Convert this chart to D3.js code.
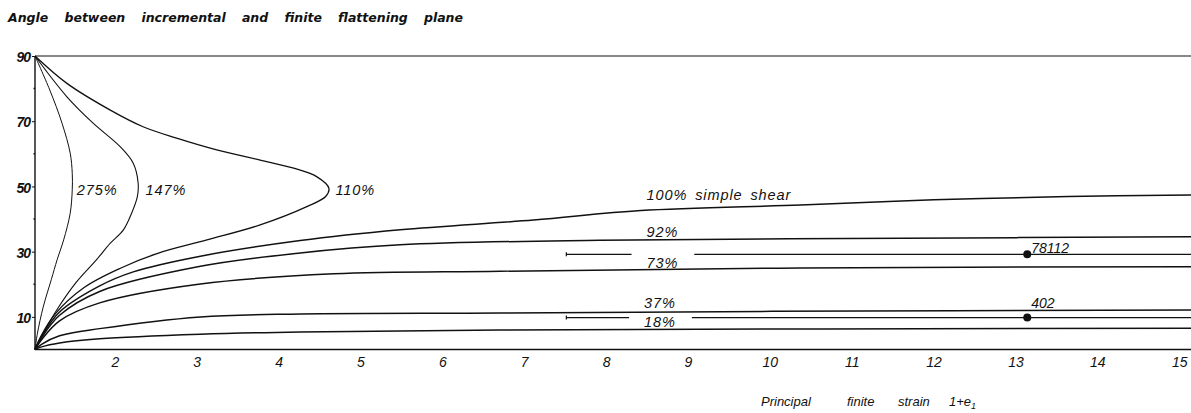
<!DOCTYPE html>
<html>
<head>
<meta charset="utf-8">
<script src="https://cdn.jsdelivr.net/npm/d3@7"></script>
<style>
  html, body { margin: 0; padding: 0; background: #fff; }
  svg { display: block; }
  text { font-family: "Liberation Sans", "DejaVu Sans", sans-serif; font-style: italic; fill: #111; }
</style>
</head>
<body>
<svg id="chart" width="1191" height="413"></svg>
<script>
// ---------- data (strain 1+e1, angle in degrees) ----------
const xTicks = [2, 3, 4, 5, 6, 7, 8, 9, 10, 11, 12, 13, 14, 15];
const yTicks = [10, 30, 50, 70, 90];
const yMinorTicks = [20, 40, 60, 80];

const curve275 = [[1,90],[1.18,79.6],[1.33,69.4],[1.43,60.2],[1.455,54],[1.455,49],[1.43,41.8],[1.35,33.6],[1.27,27.5],[1.2,21.5],[1.1,13],[1.03,5],[1,0]];
const curve147 = [[1,90],[1.39,77.5],[1.71,69.4],[2.04,62.2],[2.2,57.1],[2.26,51],[2.25,46.9],[2.18,41.8],[2.08,36.7],[1.92,32.6],[1.75,27.5],[1.5,20.5],[1.25,11.5],[1.08,4],[1,0]];
const curve110 = [[1,90],[1.39,81.6],[1.92,73.4],[2.32,68.3],[2.73,64.8],[3.22,61.2],[3.75,58.1],[4.16,55.6],[4.44,53],[4.59,49.4],[4.55,46.9],[4.32,43.8],[3.75,38.2],[3.1,33.6],[2.5,29.5],[2.05,25],[1.6,19],[1.25,11],[1.07,4],[1,0]];
const curve100 = [[1,0],[1.08,4],[1.3,11.5],[1.79,19.5],[2.2,23.8],[3.02,28.6],[4.24,33.4],[5.46,36.7],[7.09,39.7],[8.4,42.6],[10.35,44.3],[11.98,45.9],[13.62,46.9],[15.12,47.4]];
const curve92  = [[1,0],[1.08,3.6],[1.3,10.5],[1.79,17.8],[3.02,25.5],[4.24,29.6],[5.46,32.1],[7.9,33.5],[11.6,34.1],[15.12,34.6]];
const curve73  = [[1,0],[1.08,3],[1.3,8.8],[1.79,14.3],[3.02,20.1],[4.65,23.2],[6.68,24.0],[10.35,25],[15.12,25.4]];
const curve37  = [[1,0],[1.08,1.6],[1.3,4.2],[1.79,6.4],[3.02,10.0],[4.24,10.9],[6.68,11.2],[10,11.7],[15.12,12.1]];
const curve18  = [[1,0],[1.08,0.8],[1.3,2.0],[1.79,3.3],[3.02,4.7],[4.24,5.4],[6.68,6.0],[15.12,6.5]];

const curveNames = ["275%", "147%", "110%", "100% simple shear", "92%", "73%", "37%", "18%"];

// measured samples
const sampleNames = ["78112", "402"];
const sampleStrain = [13.12, 13.12];
const sampleAngle = [29.2, 9.8];
const sampleRangeFrom = [7.49, 7.49];
const sampleRangeTo = [15.12, 15.12];

const titleY = "Angle between incremental and finite flattening plane";
const titleXWords = ["Principal", "finite", "strain", "1+e"];

// ---------- drawing ----------
const svg = d3.select("#chart");
const x = d3.scaleLinear().domain([1, 15.12]).range([35, 1191]);
const y = d3.scaleLinear().domain([0, 90]).range([349.5, 56]);

const ink = "#111";

// y title, word spacing fitted to the reference width
const tY = svg.append("text")
  .attr("x", 8).attr("y", 22)
  .attr("font-size", 12.5).attr("font-weight", "bold")
  .style("font-family", '"DejaVu Sans", sans-serif')
  .text(titleY);
const natural = tY.node().getComputedTextLength();
tY.style("word-spacing", Math.max(0, (455 - natural) / 6) + "px");

// frame: top line
svg.append("line").attr("x1", x(1)).attr("x2", 1191).attr("y1", y(90)).attr("y2", y(90))
  .attr("stroke", ink).attr("stroke-width", 1.2);

const xAxis = d3.axisBottom(x).tickValues(xTicks).tickSize(0).tickPadding(6).tickFormat(d3.format("d"));
const gx = svg.append("g").attr("transform", `translate(0,${y(0)})`).call(xAxis);
gx.select(".domain").attr("stroke", ink).attr("stroke-width", 1.6).attr("d", `M${x(1)},0H1191`);
gx.selectAll(".tick text").attr("font-size", 14).attr("dy", "0.8em").attr("dx", -2)
  .style("font-family", '"Liberation Sans", sans-serif').style("font-style", "italic").attr("fill", ink);

const yAxis = d3.axisLeft(y).tickValues(yTicks).tickSize(3).tickPadding(2).tickFormat(d3.format("d"));
const gy = svg.append("g").attr("transform", `translate(${x(1)},0)`).call(yAxis);
gy.select(".domain").attr("stroke", ink).attr("stroke-width", 1.4).attr("d", `M0,${y(90)}V${y(0)}`);
gy.selectAll(".tick line").attr("stroke", ink);
gy.selectAll(".tick text").attr("font-size", 14).attr("font-weight", "bold")
  .style("font-family", '"Liberation Sans", sans-serif').style("font-style", "italic").attr("fill", ink)
  .attr("dy", "0.4em").style("letter-spacing", "-1px");
gy.selectAll(".minor").data(yMinorTicks).join("line")
  .attr("x1", -1.5).attr("x2", 0).attr("y1", d => y(d)).attr("y2", d => y(d))
  .attr("stroke", ink).attr("stroke-width", 1.5);

// x title, word by word
const xTitleOffsets = [0, 86, 137, 188];
const xTitleStart = 761;
titleXWords.forEach((w, i) => {
  const t = svg.append("text").attr("x", xTitleStart + xTitleOffsets[i]).attr("y", 406)
    .attr("font-size", 13).text(w);
  if (i === titleXWords.length - 1) t.append("tspan").attr("font-size", 9).attr("dy", 3).text("1");
});

// curves
const line = d3.line().x(d => x(d[0])).y(d => y(d[1])).curve(d3.curveCatmullRom.alpha(0.5));
const curves = [curve275, curve147, curve110, curve100, curve92, curve73, curve37, curve18];
const widths = [1.0, 1.1, 1.3, 1.5, 1.5, 1.5, 1.5, 1.5];
svg.append("g").selectAll("path").data(curves).join("path")
  .attr("d", line).attr("fill", "none").attr("stroke", ink)
  .attr("stroke-width", (d, i) => widths[i]);

// sample range lines with points
const sampleLabelDy = [-1.5, -9.5];
const sg = svg.append("g");
sampleNames.forEach((name, i) => {
  const yy = y(sampleAngle[i]);
  sg.append("line").attr("x1", x(sampleRangeFrom[i])).attr("x2", x(sampleRangeTo[i]))
    .attr("y1", yy).attr("y2", yy).attr("stroke", ink).attr("stroke-width", 1.3);
  sg.append("line").attr("x1", x(sampleRangeFrom[i])).attr("x2", x(sampleRangeFrom[i]))
    .attr("y1", yy - 2).attr("y2", yy + 2).attr("stroke", ink).attr("stroke-width", 1.2);
  sg.append("circle").attr("cx", x(sampleStrain[i])).attr("cy", yy).attr("r", 4).attr("fill", ink);
  sg.append("text").attr("x", x(sampleStrain[i]) + 4).attr("y", yy + sampleLabelDy[i])
    .attr("font-size", 14).text(name);
});

// curve labels: [strain, angle] of the baseline start
const labelPos = [[1.51, 47.4], [2.35, 47.4], [4.67, 47.4], [8.47, 45.8], [8.47, 34.4], [8.47, 24.9], [8.44, 12.7], [8.44, 6.9]];
const maskTop = { "73%": 17, "18%": 13 };
const lg = svg.append("g");
curveNames.forEach((name, i) => {
  const t = lg.append("text").attr("x", x(labelPos[i][0])).attr("y", y(labelPos[i][1]))
    .attr("font-size", 14.5).style("letter-spacing", "0.9px").style("word-spacing", "3px").text(name);
  if (maskTop[name]) {
    const bb = t.node().getBBox();
    const base = y(labelPos[i][1]);
    lg.insert("rect", "text").attr("x", bb.x - 15).attr("y", base - maskTop[name])
      .attr("width", bb.width + 31).attr("height", maskTop[name] - 3).attr("fill", "#fff");
  }
});
</script>
</body>
</html>
